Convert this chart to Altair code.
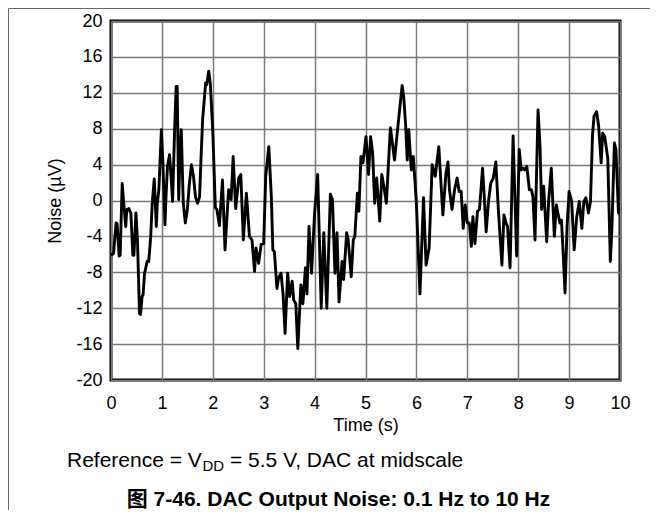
import altair as alt
import pandas as pd

# Time (s) and noise (µV)
time_s = [
    0.00, 0.05, 0.10, 0.12, 0.16, 0.18, 0.22, 0.24, 0.29, 0.31, 0.35, 0.37, 0.39, 0.43, 0.45, 0.49,
    0.52, 0.56, 0.58, 0.61, 0.63, 0.66, 0.71, 0.74, 0.76, 0.78, 0.81, 0.85, 0.89, 0.91, 0.94, 0.99,
    1.02, 1.06, 1.08, 1.11, 1.15, 1.18, 1.21, 1.25, 1.28, 1.30, 1.33, 1.36, 1.38, 1.42, 1.46, 1.50,
    1.54, 1.58, 1.62, 1.66, 1.70, 1.74, 1.77, 1.80, 1.86, 1.88, 1.92, 1.95, 2.00, 2.05, 2.08, 2.13,
    2.19, 2.24, 2.31, 2.36, 2.40, 2.45, 2.51, 2.55, 2.60, 2.66, 2.72, 2.77, 2.82, 2.85, 2.90, 2.95,
    3.00, 3.04, 3.10, 3.15, 3.18, 3.21, 3.26, 3.29, 3.34, 3.38, 3.42, 3.47, 3.51, 3.56, 3.59, 3.63,
    3.67, 3.73, 3.77, 3.82, 3.85, 3.89, 3.94, 4.00, 4.06, 4.13, 4.18, 4.24, 4.31, 4.35, 4.40, 4.44,
    4.48, 4.54, 4.57, 4.63, 4.66, 4.72, 4.76, 4.79, 4.84, 4.87, 4.91, 4.95, 5.01, 5.06, 5.10, 5.14,
    5.18, 5.22, 5.28, 5.32, 5.36, 5.41, 5.45, 5.49, 5.57, 5.65, 5.72, 5.75, 5.79, 5.82, 5.85, 5.90,
    5.94, 6.00, 6.07, 6.14, 6.19, 6.25, 6.31, 6.37, 6.44, 6.52, 6.58, 6.62, 6.65, 6.70, 6.75, 6.80,
    6.84, 6.88, 6.92, 6.96, 7.00, 7.04, 7.08, 7.11, 7.15, 7.20, 7.24, 7.30, 7.33, 7.37, 7.42, 7.46,
    7.51, 7.56, 7.61, 7.68, 7.72, 7.76, 7.79, 7.84, 7.90, 7.97, 8.02, 8.06, 8.10, 8.13, 8.17, 8.22,
    8.26, 8.29, 8.33, 8.39, 8.43, 8.46, 8.50, 8.56, 8.60, 8.65, 8.71, 8.75, 8.78, 8.82, 8.85, 8.88,
    8.92, 8.96, 9.00, 9.05, 9.10, 9.15, 9.20, 9.25, 9.29, 9.33, 9.38, 9.42, 9.46, 9.49, 9.54, 9.58,
    9.63, 9.66, 9.70, 9.76, 9.81, 9.84, 9.89, 9.92, 9.97, 10.00,
]
noise_uv = [
    -6.1, -5.9, -2.5, -2.6, -6.2, -6.1, 1.9, 0.4, -2.9, -1.0, -0.9, -1.2, -1.4, -6.1, -6.1, -1.4,
    -4.4, -12.6, -12.7, -10.7, -10.5, -8.1, -6.8, -6.8, -5.5, -4.0, -0.3, 2.4, -2.9, -0.3, 1.2, 7.9,
    4.2, -2.7, 0.4, 3.8, 5.1, 2.7, -0.1, 7.9, 12.7, 12.7, 0.1, 6.0, 7.9, -0.3, -2.5, -1.0,
    1.9, 4.0, 2.7, 0.4, -0.3, 0.4, 4.9, 9.0, 13.1, 12.9, 14.4, 13.1, 7.7, -0.8, -1.0, -2.8,
    2.3, -5.5, 1.2, 0.1, 4.9, -0.9, 2.5, 2.9, -4.4, 0.8, -4.0, -4.4, -7.9, -5.3, -7.0, -4.9,
    -4.8, 2.7, 6.0, 0.4, -5.5, -5.7, -9.8, -8.7, -8.1, -10.4, -14.8, -8.1, -10.7, -9.0, -11.1, -11.5,
    -16.5, -9.4, -11.5, -7.5, -10.4, -2.9, -8.1, -1.4, 2.9, -12.0, -3.6, -12.0, 0.7, 0.1, -8.1, -3.6,
    -11.3, -6.8, -8.8, -3.6, -4.4, -8.5, -4.4, -4.0, 0.8, -1.2, 4.9, 4.2, 7.1, 2.9, 7.1, 5.3,
    -0.3, 2.5, -2.3, 2.9, 1.6, -0.3, 4.0, 8.1, 4.5, 9.0, 12.8, 11.6, 8.3, 4.5, 7.9, 3.4,
    4.9, -0.3, -10.4, 0.3, -7.2, -5.3, 4.0, 2.7, 6.0, -1.6, 3.0, 4.3, 1.2, -1.0, 1.2, 2.5,
    1.0, 1.0, -3.1, -0.5, -2.5, -2.5, -5.1, -1.8, -4.8, -1.2, -1.0, 3.6, 0.8, -3.5, 0.1, 1.9,
    2.5, 4.3, -1.0, -7.2, -1.6, -2.5, -2.9, -7.5, 7.2, -6.2, 5.7, 3.4, 3.6, 3.4, 3.8, 1.2,
    1.2, 0.4, -4.4, 10.1, 5.9, -1.0, 1.6, -4.6, 0.1, 3.6, -4.0, -0.5, -1.4, -2.5, -2.2, -5.5,
    -10.3, -2.9, 1.0, -0.1, -5.5, -1.8, -0.1, -3.1, -0.1, 0.3, -1.4, -0.1, 7.3, 9.4, 9.9, 8.3,
    4.2, 7.5, 7.1, 4.7, -6.8, -3.3, 6.4, 5.7, -1.4, -1.4,
]

x_ticks = list(range(0, 11))
y_ticks = list(range(-20, 21, 4))

FONT = "Arial, Liberation Sans, Noto Sans CJK SC"
W, H = 509, 359

df = pd.DataFrame({"t": time_s, "v": noise_uv})

line = alt.Chart(df).mark_line(color="black", strokeWidth=2.9, strokeJoin="round").encode(
    x=alt.X(
        "t:Q",
        scale=alt.Scale(domain=[0, 10], nice=False, zero=False),
        axis=alt.Axis(
            values=x_ticks, title="Time (s)", ticks=False, domain=False,
            labelFont=FONT, labelFontSize=18, labelColor="black", labelPadding=14,
            labelFlush=False,
            titleFont=FONT, titleFontSize=18, titleFontWeight="normal", titleColor="black",
            titleY=36, titleBaseline="top",
            gridColor="#7a7a7a", gridWidth=1.5, gridOpacity=1,
        ),
    ),
    y=alt.Y(
        "v:Q",
        scale=alt.Scale(domain=[-20, 20], nice=False, zero=False),
        axis=alt.Axis(
            values=y_ticks, title="Noise (µV)", ticks=False, domain=False,
            labelFont=FONT, labelFontSize=18, labelColor="black", labelPadding=9,
            labelExpr="datum.value + ''", labelFlush=False,
            titleFont=FONT, titleFontSize=18, titleFontWeight="normal", titleColor="black",
            titleX=-55.5, titleY=H / 2, titleAngle=270, titleAlign="center",
            titleBaseline="middle",
            gridColor="#7a7a7a", gridWidth=1.5, gridOpacity=1,
        ),
    ),
)

one = pd.DataFrame({"k": [0]})

ref1 = alt.Chart(one).mark_text(
    font=FONT, fontSize=21, color="black", align="left", baseline="alphabetic"
).encode(x=alt.value(-44), y=alt.value(446), text=alt.value("Reference = V"))
ref2 = alt.Chart(one).mark_text(
    font=FONT, fontSize=15, color="black", align="left", baseline="alphabetic"
).encode(x=alt.value(91.5), y=alt.value(450), text=alt.value("DD"))
ref3 = alt.Chart(one).mark_text(
    font=FONT, fontSize=21, color="black", align="left", baseline="alphabetic"
).encode(x=alt.value(119), y=alt.value(446), text=alt.value("= 5.5 V, DAC at midscale"))
caption = alt.Chart(one).mark_text(
    font=FONT, fontSize=21, fontWeight="bold", color="black", align="center",
    baseline="alphabetic"
).encode(x=alt.value(227.5), y=alt.value(485),
         text=alt.value("图 7-46. DAC Output Noise: 0.1 Hz to 10 Hz"))

border_left = alt.Chart(one).mark_rule(color="#666666", strokeWidth=1).encode(
    x=alt.value(-102.5), y=alt.value(-12.5), y2=alt.value(600)
)
border_top = alt.Chart(one).mark_rule(color="#666666", strokeWidth=1).encode(
    x=alt.value(-102.5), x2=alt.value(600), y=alt.value(-12.5)
)

chart = alt.layer(line, ref1, ref2, ref3, caption, border_left, border_top).properties(
    width=W, height=H,
    padding={"left": 103, "top": 13, "right": 30, "bottom": 130},
    autosize=alt.AutoSizeParams(type="none"),
    background="white",
).configure_view(stroke="black", strokeWidth=3)

chart.save("out.html", embed_options={"renderer": "svg", "actions": False})
